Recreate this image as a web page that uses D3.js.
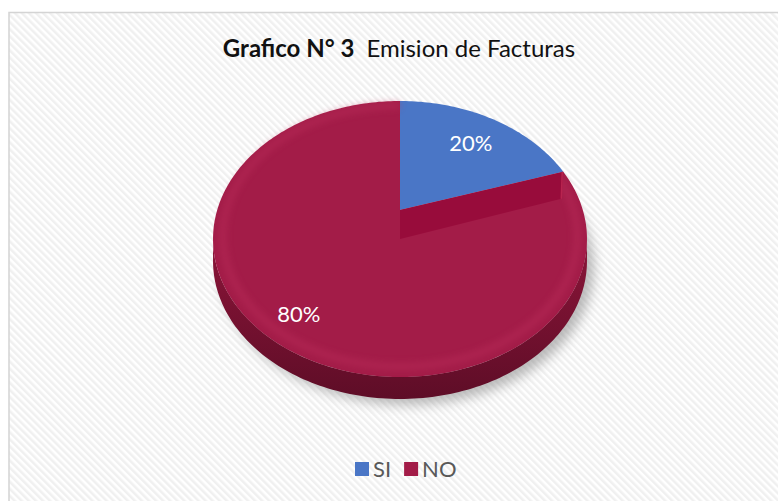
<!DOCTYPE html>
<html>
<head>
<meta charset="utf-8">
<script src="https://cdn.jsdelivr.net/npm/d3@7"></script>
<style>
  body { margin: 0; background: #fff; }
  text { font-family: Lato, "Open Sans", sans-serif; }
</style>
</head>
<body>
<svg id="chart" width="778" height="501"></svg>
<script>
// chart data
var categories = ["SI", "NO"];
var values = [20, 80];
var colors = ["#4a76c6", "#a31c48"];
var titleBold = "Grafico N° 3";
var titleRest = "Emision de Facturas";

var svg = d3.select("#chart"),
  W = 778, H = 501,
  cx = 400, cyE = 239,   // centre of projected top ellipse
  A = 182.8, B = 138, C = 29, k = 0.2101, // perspective terms
  depth = 22;

// project a point of the unit pie disc (angle clockwise from far side)
function proj(theta, r) {
  var x = r * Math.sin(theta), z = r * Math.cos(theta), w = 1 + k * z;
  return [cx + A * x / w, cyE - (B * z + C) / w];
}

function rimPoints(a0, a1, r, dy) {
  var n = Math.max(4, Math.ceil(Math.abs(a1 - a0) / 0.02)), pts = [], i, p;
  for (i = 0; i <= n; i++) {
    p = proj(a0 + (a1 - a0) * i / n, r);
    pts.push([p[0], p[1] + (dy || 0)]);
  }
  return pts;
}

var line = d3.line();
var defs = svg.append("defs");

// background weave pattern
var pat = defs.append("pattern")
  .attr("id", "hatch")
  .attr("width", 5).attr("height", 5)
  .attr("patternUnits", "userSpaceOnUse")
  .attr("patternTransform", "rotate(-45)");
pat.append("rect").attr("width", 5).attr("height", 5).attr("fill", "#ffffff");
pat.append("rect").attr("width", 2.5).attr("height", 5).attr("fill", "#f0f0f0");

var wallGrad = defs.append("linearGradient")
  .attr("id", "wall").attr("x1", 0).attr("y1", 0).attr("x2", 0).attr("y2", 1);
wallGrad.append("stop").attr("offset", "0").attr("stop-color", "#8c1539");
wallGrad.append("stop").attr("offset", "1").attr("stop-color", "#5e0d27");

defs.append("filter").attr("id", "blur")
  .attr("x", "-20%").attr("y", "-20%").attr("width", "140%").attr("height", "140%")
  .append("feGaussianBlur").attr("stdDeviation", 6);
defs.append("filter").attr("id", "soft")
  .append("feGaussianBlur").attr("stdDeviation", 3);

svg.append("rect")
  .attr("x", 0).attr("y", 0).attr("width", W).attr("height", H)
  .attr("fill", "#fff");
svg.append("rect")
  .attr("x", 9).attr("y", 12.5).attr("width", W + 10).attr("height", H + 10)
  .attr("fill", "url(#hatch)")
  .attr("stroke", "#d4d4d4").attr("stroke-width", 1.5);

// title
var title = svg.append("text")
  .attr("x", 399).attr("y", 57)
  .attr("text-anchor", "middle")
  .attr("font-size", 24)
  .attr("fill", "#111");
title.append("tspan").attr("font-weight", "bold").text(titleBold);
title.append("tspan").attr("dx", 12).text(titleRest);

var pie = d3.pie().sort(null).value(function (d) { return d; });
var arcs = pie(values);

var g = svg.append("g");

// drop shadow
var sh = rimPoints(Math.PI * 0.45, Math.PI * 1.4, 1, depth + 6).map(function (p) {
  return [p[0] + 7, p[1]];
});
g.append("path")
  .attr("d", line(sh.concat(rimPoints(Math.PI * 1.4, Math.PI * 0.45, 0.9, depth - 20))) + "Z")
  .attr("fill", "#8f8f8f").attr("opacity", 0.6)
  .attr("filter", "url(#blur)");

// front side wall (all of it belongs to the NO slice)
var a0 = Math.acos(-k), a1 = 2 * Math.PI - Math.acos(-k);
var topEdge = rimPoints(a0, a1, 1, 0),
  botEdge = rimPoints(a1, a0, 1, depth);
g.append("path")
  .attr("d", line(topEdge.concat(botEdge)) + "Z")
  .attr("fill", "url(#wall)");

// top faces
arcs.forEach(function (d, i) {
  var pts = [proj(0, 0)].concat(rimPoints(d.startAngle, d.endAngle, 1, 0));
  g.append("path")
    .attr("d", line(pts) + "Z")
    .attr("fill", colors[i]);
});

// lighter bevel ring on the top
g.append("path")
  .attr("d", line(rimPoints(arcs[1].startAngle + 0.05, arcs[1].endAngle, 0.95, 0)))
  .attr("fill", "none")
  .attr("stroke", "#c0305e").attr("stroke-width", 8).attr("opacity", 0.35)
  .attr("filter", "url(#soft)");

// cut face showing below the SI slice edge
var cut = arcs[0].endAngle,
  pc = proj(0, 0), pr = proj(cut, 1), drop = 29;
g.append("path")
  .attr("d", line([pc, pr, [pr[0] - 2, pr[1] + drop - 2], [pc[0], pc[1] + drop]]) + "Z")
  .attr("fill", "#980c3b");
g.append("line")
  .attr("x1", pr[0] - 1).attr("y1", pr[1]).attr("x2", pr[0] - 2).attr("y2", pr[1] + drop - 2)
  .attr("stroke", "#b8244f").attr("stroke-width", 1.5);

// percentage labels
var total = d3.sum(values);
arcs.forEach(function (d) {
  var mid = (d.startAngle + d.endAngle) / 2,
    r = d.value / total < 0.5 ? 0.66 : 0.86,
    p = proj(mid, r);
  g.append("text")
    .attr("x", p[0] + 7).attr("y", p[1] - 3)
    .attr("dy", "0.35em")
    .attr("text-anchor", "middle")
    .attr("font-size", 22)
    .attr("fill", "#ffffff")
    .text(Math.round(d.value / total * 100) + "%");
});

// legend
var legend = svg.append("g").attr("transform", "translate(355,462)");
var lx = 0;
categories.forEach(function (c, i) {
  var item = legend.append("g").attr("transform", "translate(" + lx + ",0)");
  item.append("rect")
    .attr("width", 14).attr("height", 14)
    .attr("fill", colors[i]);
  var t = item.append("text")
    .attr("x", 18).attr("y", 15)
    .attr("font-size", 22)
    .attr("fill", "#595959")
    .text(c);
  lx += 18 + t.node().getComputedTextLength() + 13;
});
</script>
</body>
</html>
